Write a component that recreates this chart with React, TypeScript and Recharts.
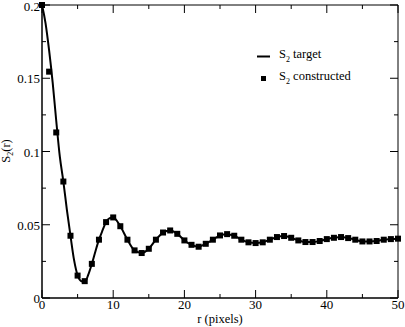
import {
  ComposedChart,
  Line,
  Scatter,
  XAxis,
  YAxis,
  ReferenceArea,
  Legend,
  Label,
} from "recharts";

// S2 target (solid curve)
const targetR = [
  0, 0.5, 1, 1.5, 2, 2.5, 3, 3.5, 4, 4.5, 5, 5.5, 6, 6.5, 7, 7.5, 8, 8.5, 9, 9.5,
  10, 11, 12, 13, 14, 15, 16, 17, 18, 19, 20, 21, 22, 23, 24, 25, 26, 27, 28, 29,
  30, 31, 32, 33, 34, 35, 36, 37, 38, 39, 40, 41, 42, 43, 44, 45, 46, 47, 48, 49, 50,
];
const targetS = [
  0.2, 0.1875, 0.169, 0.147, 0.121, 0.0966, 0.0795, 0.06, 0.0425, 0.026, 0.0155,
  0.0115, 0.0108, 0.0159, 0.0233, 0.0318, 0.0398, 0.0461, 0.0518, 0.0545, 0.055,
  0.049, 0.0398, 0.0325, 0.0307, 0.0336, 0.0398, 0.0447, 0.0461, 0.0438, 0.0393,
  0.0363, 0.035, 0.037, 0.0398, 0.0427, 0.0436, 0.0425, 0.0398, 0.038, 0.0375,
  0.038, 0.0398, 0.0416, 0.0423, 0.0411, 0.0393, 0.0382, 0.0382, 0.0389, 0.0402,
  0.0411, 0.0416, 0.0409, 0.0398, 0.0386, 0.0386, 0.0389, 0.0398, 0.0402, 0.0405,
];

// S2 constructed (square markers)
const constructedR = [
  0, 1, 2, 3, 4, 5, 6, 7, 8, 9, 10, 11, 12, 13, 14, 15, 16, 17, 18, 19, 20, 21,
  22, 23, 24, 25, 26, 27, 28, 29, 30, 31, 32, 33, 34, 35, 36, 37, 38, 39, 40, 41,
  42, 43, 44, 45, 46, 47, 48, 49, 50,
];
const constructedS = [
  0.2, 0.1545, 0.113, 0.0795, 0.0425, 0.0153, 0.0115, 0.0233, 0.0398, 0.0518,
  0.055, 0.049, 0.0398, 0.0325, 0.0307, 0.0336, 0.0398, 0.0447, 0.0461, 0.0438,
  0.0393, 0.0363, 0.035, 0.037, 0.0398, 0.0427, 0.0436, 0.0425, 0.0398, 0.038,
  0.0375, 0.038, 0.0398, 0.0416, 0.0423, 0.0411, 0.0393, 0.0382, 0.0382, 0.0389,
  0.0402, 0.0411, 0.0416, 0.0409, 0.0398, 0.0386, 0.0386, 0.0389, 0.0398, 0.0402,
  0.0405,
];

const xTicks = [0, 5, 10, 15, 20, 25, 30, 35, 40, 45, 50];
const xLabels = ["0", "", "10", "", "20", "", "30", "", "40", "", "50"];
const yTicks = [0, 0.025, 0.05, 0.075, 0.1, 0.125, 0.15, 0.175, 0.2];
const yLabels = ["0", "", "0.05", "", "0.1", "", "0.15", "", "0.2"];

const FONT = "Liberation Serif, DejaVu Serif, serif";
const TOP = 5;
const RIGHT = 398;

const targetData = targetR.map((r, i) => ({ r, s: targetS[i] }));
const constructedData = constructedR.map((r, i) => ({ r, s: constructedS[i] }));

function XTick(props: any) {
  const { x, y, index } = props;
  const label = xLabels[index] ?? "";
  const len = label ? 8 : 4;
  return (
    <g>
      <line x1={x} y1={y} x2={x} y2={y - len} stroke="#000" />
      <line x1={x} y1={TOP} x2={x} y2={TOP + len} stroke="#000" />
      {label && (
        <text x={x} y={y + 11} textAnchor="middle" fontSize={13} fontFamily={FONT} fill="#000">
          {label}
        </text>
      )}
    </g>
  );
}

function YTick(props: any) {
  const { x, y, index } = props;
  const label = yLabels[index] ?? "";
  const len = label ? 8 : 4;
  return (
    <g>
      <line x1={x} y1={y} x2={x + len} y2={y} stroke="#000" />
      <line x1={RIGHT} y1={y} x2={RIGHT - len} y2={y} stroke="#000" />
      {label && (
        <text x={x - 2} y={Math.max(y + 5, 11)} textAnchor="end" fontSize={13} fontFamily={FONT} fill="#000">
          {label}
        </text>
      )}
    </g>
  );
}

function Square(props: any) {
  const { cx, cy } = props;
  return <rect x={cx - 3} y={cy - 3} width={6} height={6} fill="#000" />;
}

function LegendBox() {
  return (
    <div style={{ fontFamily: FONT, fontSize: 12.5, color: "#000", lineHeight: "17px" }}>
      <div style={{ display: "flex", alignItems: "center" }}>
        <svg width={24} height={17}>
          <line x1={2} y1={8.5} x2={15} y2={8.5} stroke="#000" strokeWidth={2} />
        </svg>
        <span>
          S<sub style={{ fontSize: 8 }}>2</sub> target
        </span>
      </div>
      <div style={{ display: "flex", alignItems: "center" }}>
        <svg width={24} height={17}>
          <rect x={6} y={6} width={5} height={5} fill="#000" />
        </svg>
        <span>
          S<sub style={{ fontSize: 8 }}>2</sub> constructed
        </span>
      </div>
    </div>
  );
}

export default function App() {
  return (
    <div style={{ position: "absolute", left: 0, top: 0, background: "#fff", fontFamily: FONT }}>
      <ComposedChart
        width={405}
        height={327}
        margin={{ top: TOP, right: 7, bottom: 0, left: 0 }}
      >
        <XAxis
          type="number"
          dataKey="r"
          domain={[0, 50]}
          ticks={xTicks}
          height={29}
          tickSize={0}
          tickMargin={0}
          tickLine={false}
          tick={XTick}
          axisLine={{ stroke: "#000" }}
          interval={0}
        >
          <Label
            content={() => (
              <text x={220} y={323} textAnchor="middle" fontSize={12.5} fontFamily={FONT} fill="#000">
                r (pixels)
              </text>
            )}
          />
        </XAxis>
        <YAxis
          type="number"
          dataKey="s"
          domain={[0, 0.2]}
          ticks={yTicks}
          width={42}
          tickSize={0}
          tickMargin={0}
          tickLine={false}
          tick={YTick}
          axisLine={{ stroke: "#000" }}
          interval={0}
        >
          <Label
            content={() => (
              <text
                transform="translate(10,151) rotate(-90)"
                textAnchor="middle"
                fontSize={12.5}
                fontFamily={FONT}
                fill="#000"
              >
                S<tspan dy={3} fontSize={8}>2</tspan>
                <tspan dy={-3}>(r)</tspan>
              </text>
            )}
          />
        </YAxis>
        <ReferenceArea x1={0} x2={50} y1={0} y2={0.2} fill="none" stroke="#000" />
        <Line
          data={targetData}
          dataKey="s"
          type="monotone"
          stroke="#000"
          strokeWidth={2}
          dot={false}
          isAnimationActive={false}
        />
        <Scatter
          data={constructedData}
          dataKey="s"
          shape={Square}
          isAnimationActive={false}
        />
        <Legend
          layout="vertical"
          align="center"
          verticalAlign="middle"
          content={LegendBox}
          wrapperStyle={{ left: 255, top: 46, width: 140 }}
        />
      </ComposedChart>
    </div>
  );
}
